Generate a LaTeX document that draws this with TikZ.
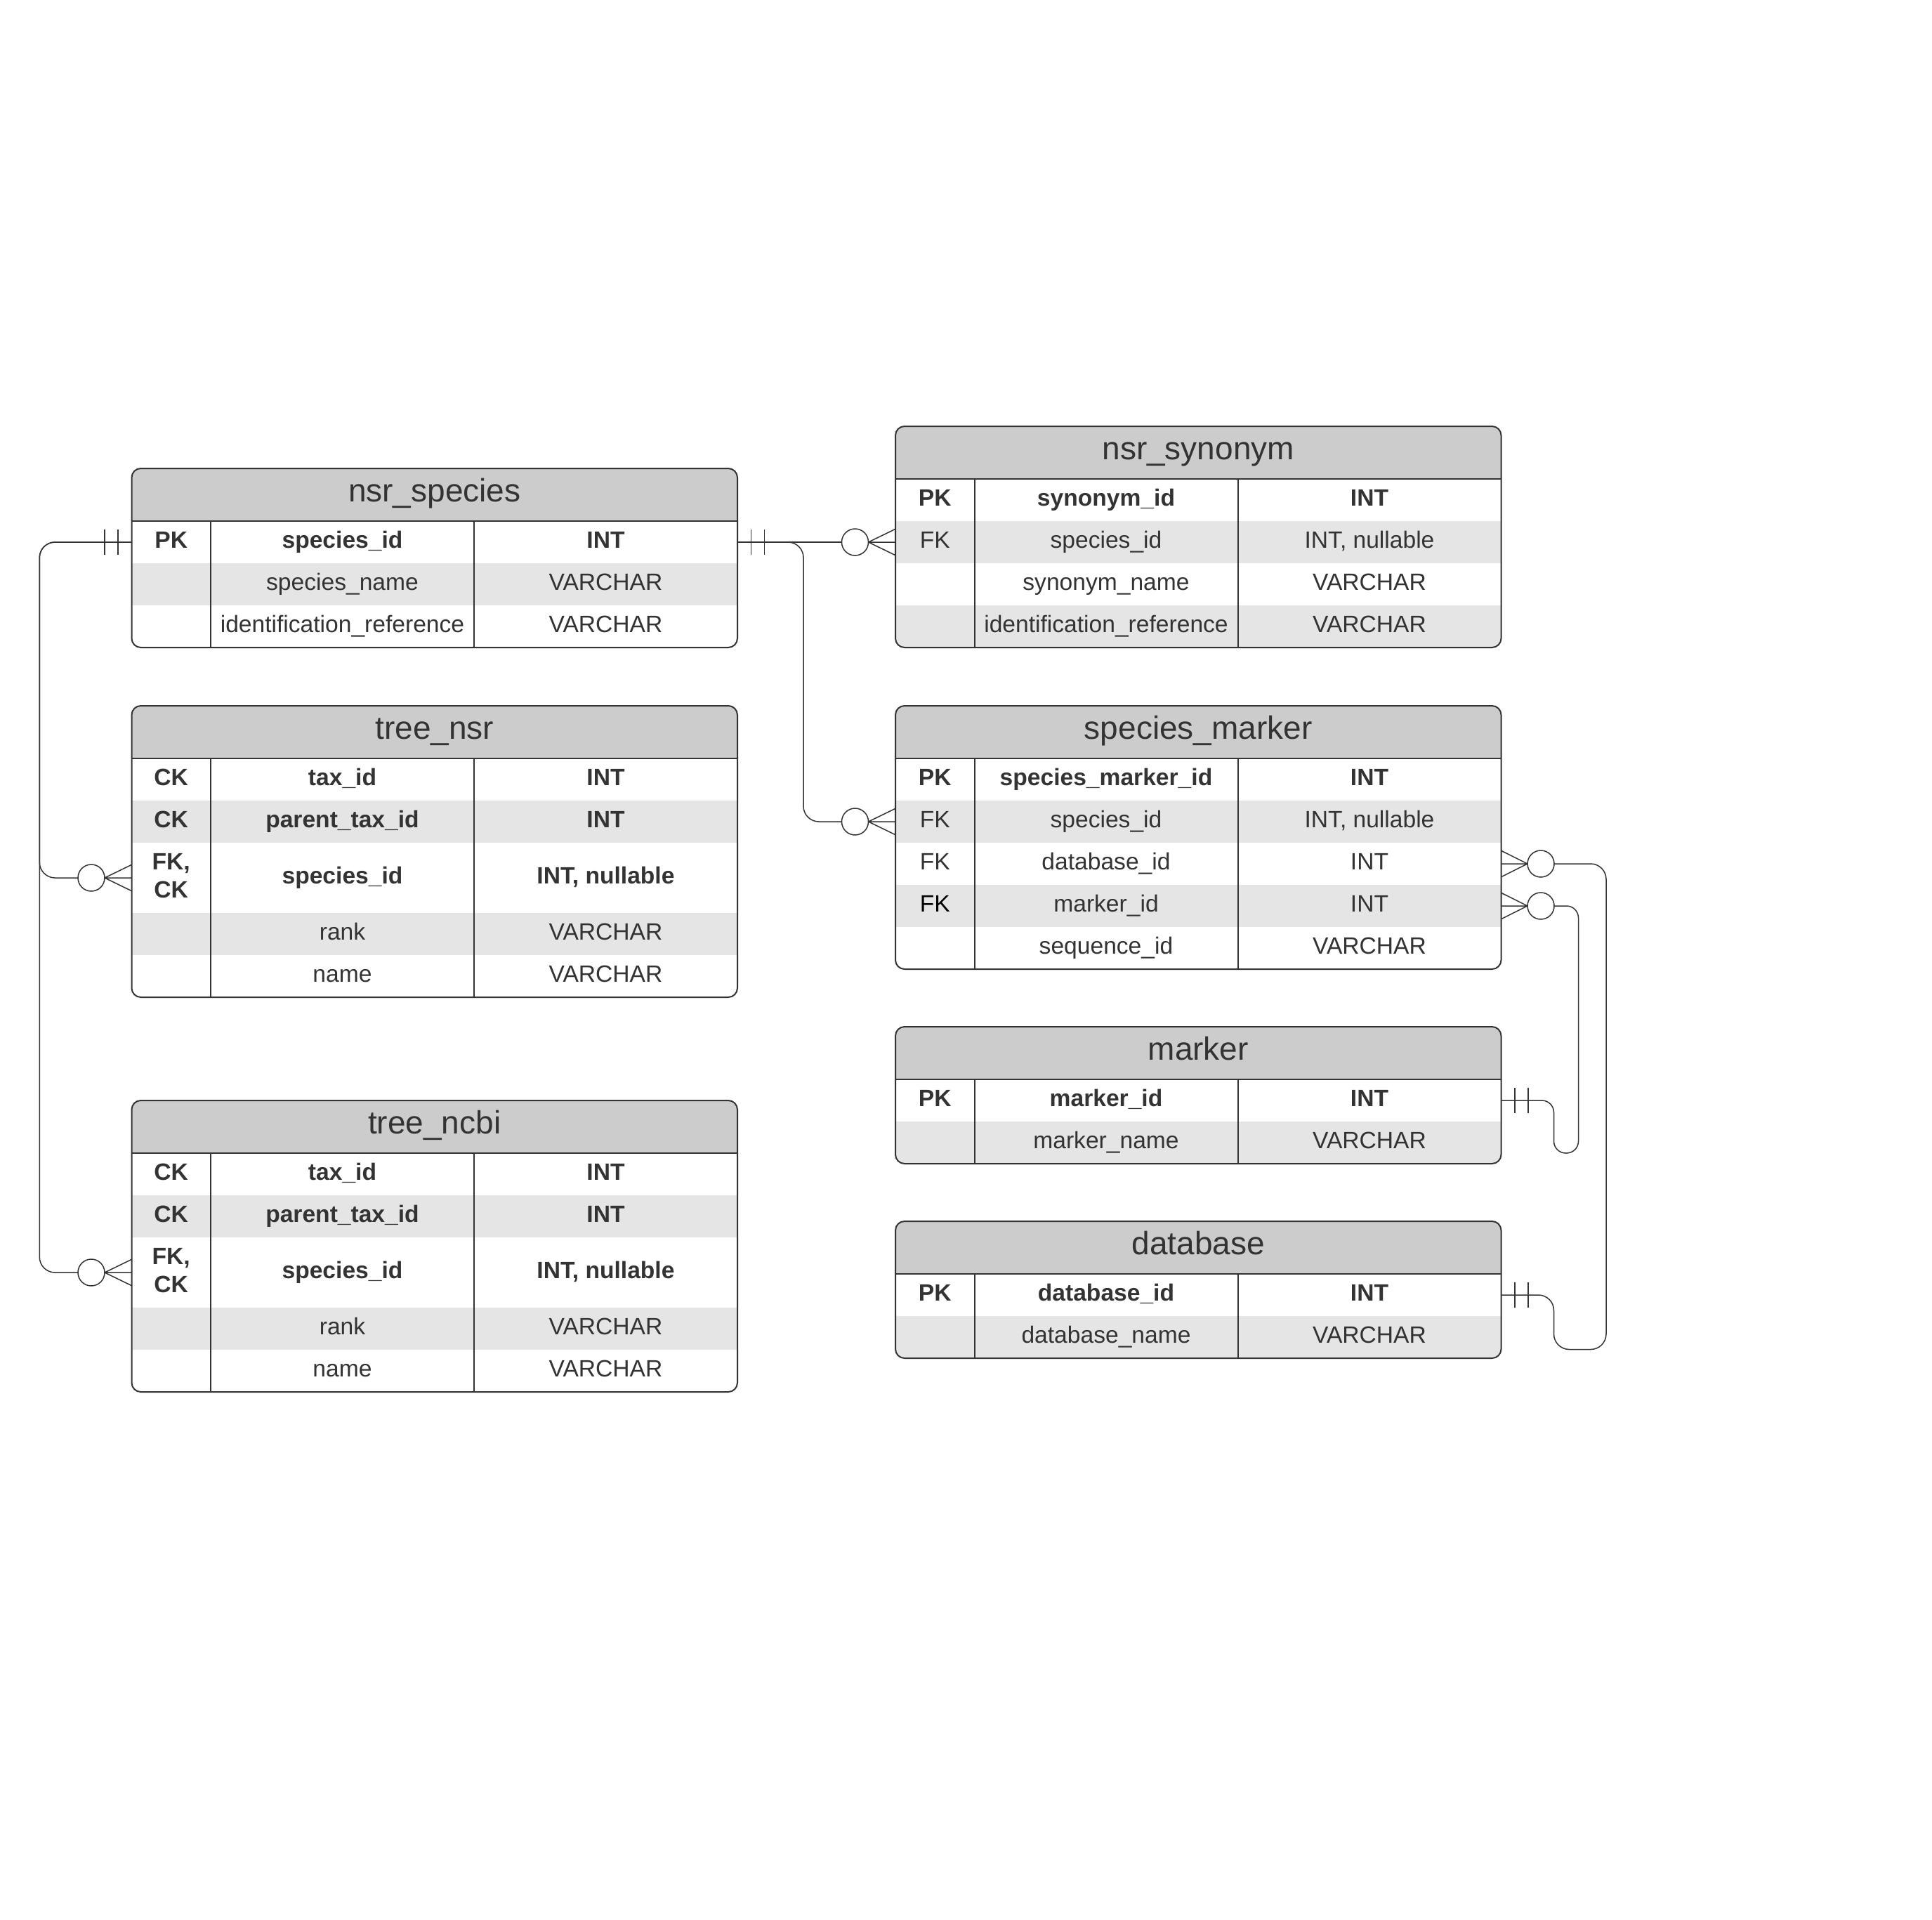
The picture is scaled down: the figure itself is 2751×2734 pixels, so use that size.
\documentclass[tikz,border=0pt]{standalone}
\usepackage{fontspec}
\setmainfont{Liberation Sans}
\usetikzlibrary{calc}
\definecolor{hdrgray}{HTML}{CCCCCC}
\definecolor{rowgray}{HTML}{E5E5E5}
\definecolor{linec}{HTML}{333333}
\definecolor{txtc}{HTML}{333333}
\newcommand{\rowfont}{\fontsize{16.8pt}{20pt}\selectfont}
\newcommand{\hdrfont}{\fontsize{23pt}{27pt}\selectfont}
\tikzset{
  rowbox/.style={anchor=north west, inner sep=0pt, outer sep=0pt, minimum width=431.25pt, draw=none},
  cell/.style={inner sep=0pt, outer sep=0pt, text height=12pt, text depth=4pt, align=center, text=txtc},
  hdrbox/.style={anchor=north west, inner sep=0pt, outer sep=0pt, minimum width=431.25pt, minimum height=37.5pt,
    fill=hdrgray, font=\hdrfont, text height=16pt, text depth=6pt, text=txtc},
  tbl/.style={draw=linec, line width=1pt},
  conn/.style={draw=linec, line width=0.75pt},
  zc/.style={circle, draw=linec, line width=0.75pt, fill=white, minimum size=19pt, inner sep=0pt, outer sep=0pt}
}
\newcommand{\erow}[9]{%
  \node[rowbox, fill=#5, minimum height=#4] (#1) at (#2,#3) {};
  \def\tmpkey{#7}%
  \ifx\tmpkey\empty\else
    \node[cell, font=\rowfont#6] (#1-k) at ([xshift=28.125pt]#1.west) {#7};
  \fi
  \node[cell, font=\rowfont#6] (#1-f) at ([xshift=150pt]#1.west) {#8};
  \node[cell, font=\rowfont#6] (#1-t) at ([xshift=337.5pt]#1.west) {#9};
}
\newcommand{\etable}[6]{%
  \fill[white, rounded corners=6.5pt] (#2,#3) rectangle (#2+862.5,#4);
  \begin{scope}
    \clip[rounded corners=6.5pt] (#2,#3) rectangle (#2+862.5,#4);
    \node[hdrbox] (#1) at (#2,#3) {#5};
    #6
  \end{scope}
  \draw[tbl, rounded corners=6.5pt] (#2,#3) rectangle (#2+862.5,#4);
  \draw[tbl] (#2,#3+75) -- (#2+862.5,#3+75);
  \draw[tbl] (#2+112.5,#3+75) -- (#2+112.5,#4);
  \draw[tbl] (#2+487.5,#3+75) -- (#2+487.5,#4);
}
\newcommand{\crowW}[2]{%
  \node[zc] (#2) at ([xshift=-28.75pt]#1.west) {};
  \draw[conn] (#2.east) -- (#1.west) (#2.east) -- ([yshift=9.35pt]#1.west) (#2.east) -- ([yshift=-9.35pt]#1.west);
}
\newcommand{\crowE}[2]{%
  \node[zc] (#2) at ([xshift=28.25pt]#1.east) {};
  \draw[conn] (#2.west) -- (#1.east) (#2.west) -- ([yshift=9.35pt]#1.east) (#2.west) -- ([yshift=-9.35pt]#1.east);
}
\newcommand{\barsW}[1]{%
  \draw[conn] ([xshift=-9.75pt,yshift=9pt]#1.west) -- ++(0pt,-18pt)
              ([xshift=-19.25pt,yshift=9pt]#1.west) -- ++(0pt,-18pt);
}
\newcommand{\barsE}[1]{%
  \draw[conn] ([xshift=9.75pt,yshift=9pt]#1.east) -- ++(0pt,-18pt)
              ([xshift=19.25pt,yshift=9pt]#1.east) -- ++(0pt,-18pt);
}
\begin{document}
\begin{tikzpicture}[x=0.5pt, y=-0.5pt]
\fill[white] (0,0) rectangle (2751,2734);
\useasboundingbox (0,0) rectangle (2751,2734);

% ---------- nsr_species ----------
\etable{sp}{187.5}{667}{922}{nsr\_species}{%
  \erow{sp1}{187.5}{742}{30pt}{white}{\bfseries}{PK}{species\_id}{INT}
  \erow{sp2}{187.5}{802}{30pt}{rowgray}{}{}{species\_name}{VARCHAR}
  \erow{sp3}{187.5}{862}{30pt}{white}{}{}{identification\_reference}{VARCHAR}
}

% ---------- tree_nsr ----------
\etable{tn}{187.5}{1005}{1420}{tree\_nsr}{%
  \erow{tn1}{187.5}{1080}{30pt}{white}{\bfseries}{CK}{tax\_id}{INT}
  \erow{tn2}{187.5}{1140}{30pt}{rowgray}{\bfseries}{CK}{parent\_tax\_id}{INT}
  \erow{tn3}{187.5}{1200}{50pt}{white}{\bfseries}{}{species\_id}{INT, nullable}
  \node[cell, font=\rowfont\bfseries, yshift=-10pt] (tn3-k) at ([xshift=28.125pt]tn3.west) {FK,\\CK};
  \erow{tn4}{187.5}{1300}{30pt}{rowgray}{}{}{rank}{VARCHAR}
  \erow{tn5}{187.5}{1360}{30pt}{white}{}{}{name}{VARCHAR}
}

% ---------- tree_ncbi ----------
\etable{tc}{187.5}{1567}{1982}{tree\_ncbi}{%
  \erow{tc1}{187.5}{1642}{30pt}{white}{\bfseries}{CK}{tax\_id}{INT}
  \erow{tc2}{187.5}{1702}{30pt}{rowgray}{\bfseries}{CK}{parent\_tax\_id}{INT}
  \erow{tc3}{187.5}{1762}{50pt}{white}{\bfseries}{}{species\_id}{INT, nullable}
  \node[cell, font=\rowfont\bfseries, yshift=-10pt] (tc3-k) at ([xshift=28.125pt]tc3.west) {FK,\\CK};
  \erow{tc4}{187.5}{1862}{30pt}{rowgray}{}{}{rank}{VARCHAR}
  \erow{tc5}{187.5}{1922}{30pt}{white}{}{}{name}{VARCHAR}
}

% ---------- nsr_synonym ----------
\etable{sy}{1275}{607}{922}{nsr\_synonym}{%
  \erow{sy1}{1275}{682}{30pt}{white}{\bfseries}{PK}{synonym\_id}{INT}
  \erow{sy2}{1275}{742}{30pt}{rowgray}{}{FK}{species\_id}{INT, nullable}
  \erow{sy3}{1275}{802}{30pt}{white}{}{}{synonym\_name}{VARCHAR}
  \erow{sy4}{1275}{862}{30pt}{rowgray}{}{}{identification\_reference}{VARCHAR}
}

% ---------- species_marker ----------
\etable{sm}{1275}{1005}{1380}{species\_marker}{%
  \erow{sm1}{1275}{1080}{30pt}{white}{\bfseries}{PK}{species\_marker\_id}{INT}
  \erow{sm2}{1275}{1140}{30pt}{rowgray}{}{FK}{species\_id}{INT, nullable}
  \erow{sm3}{1275}{1200}{30pt}{white}{}{FK}{database\_id}{INT}
  \erow{sm4}{1275}{1260}{30pt}{rowgray}{}{\textcolor{black}{FK}}{marker\_id}{INT}
  \erow{sm5}{1275}{1320}{30pt}{white}{}{}{sequence\_id}{VARCHAR}
}

% ---------- marker ----------
\etable{mk}{1275}{1462}{1657}{marker}{%
  \erow{mk1}{1275}{1537}{30pt}{white}{\bfseries}{PK}{marker\_id}{INT}
  \erow{mk2}{1275}{1597}{30pt}{rowgray}{}{}{marker\_name}{VARCHAR}
}

% ---------- database ----------
\etable{db}{1275}{1739}{1934}{database}{%
  \erow{db1}{1275}{1814}{30pt}{white}{\bfseries}{PK}{database\_id}{INT}
  \erow{db2}{1275}{1874}{30pt}{rowgray}{}{}{database\_name}{VARCHAR}
}

% ---------- connector routing coordinates ----------
\coordinate (lbus) at (56.3,0);
\coordinate (rbus) at (1144,0);
\coordinate (busA) at (2287,0);
\coordinate (busB) at (2212.5,0);
\coordinate (busC) at (2247.5,0);
\coordinate (dbLow) at (0,1921.5);
\coordinate (mkLow) at (0,1642);

% crow's feet (zero or many)
\crowW{tn3}{tnC}
\crowW{tc3}{tcC}
\crowW{sy2}{syC}
\crowW{sm2}{smC2}
\crowE{sm3}{smC3}
\crowE{sm4}{smC4}

% bars (one and only one)
\barsW{sp1}
\barsE{sp1}
\barsE{mk1}
\barsE{db1}

% connectors
\draw[conn, rounded corners=11pt] (sp1.west) -- (sp1.west -| lbus) -- (tn3.west -| lbus) -- (tnC.west);
\draw[conn, rounded corners=11pt] (sp1.west) -- (sp1.west -| lbus) -- (tc3.west -| lbus) -- (tcC.west);
\draw[conn] (sp1.east) -- (syC.west);
\draw[conn, rounded corners=11pt] (sp1.east) -- (sp1.east -| rbus) -- (sm2.west -| rbus) -- (smC2.west);
\draw[conn, rounded corners=11pt] (smC3.east) -- (smC3.east -| busA) -- (dbLow -| busA) -- (dbLow -| busB) -- (db1.east -| busB) -- (db1.east);
\draw[conn, rounded corners=8.5pt] (smC4.east) -- (smC4.east -| busC) -- (mkLow -| busC) -- (mkLow -| busB) -- (mk1.east -| busB) -- (mk1.east);
\end{tikzpicture}
\end{document}
